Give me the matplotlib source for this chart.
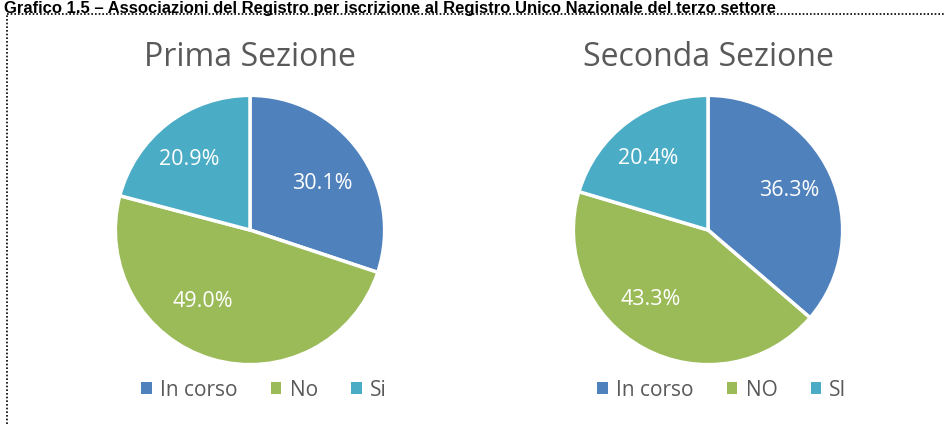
import matplotlib
matplotlib.use("Agg")
import numpy as np
import matplotlib.pyplot as plt

# Dati
titolo = "Grafico 1.5 – Associazioni del Registro per iscrizione al Registro Unico Nazionale del terzo settore"
sezioni = ["Prima Sezione", "Seconda Sezione"]
etichette_prima = ["In corso", "No", "Si"]
etichette_seconda = ["In corso", "NO", "SI"]
valori_prima = [30.1, 49.0, 20.9]
valori_seconda = [36.3, 43.3, 20.4]
colori = ["#4F81BD", "#9BBB59", "#4BACC6"]

plt.rcParams["font.family"] = ["Open Sans", "DejaVu Sans"]

fig = plt.figure(figsize=(9.45, 4.24), dpi=100)
W, H = 945, 424

# Titolo del grafico
fig.text(4 / W, 1 - 0.5 / H, titolo, fontsize=12, fontweight="bold",
         family="Liberation Sans", color="black", va="top", ha="left")

# Bordo tratteggiato
fig.add_artist(plt.Line2D([7 / W, 1], [1 - 13.5 / H, 1 - 13.5 / H], transform=fig.transFigure,
                          color="black", lw=1.2, linestyle=(0, (1, 1.2))))
fig.add_artist(plt.Line2D([7 / W, 7 / W], [0, 1 - 13.5 / H], transform=fig.transFigure,
                          color="black", lw=1.2, linestyle=(0, (1, 1.2))))


def disegna_torta(cx, valori, etichette, nome, spost_ang, dist):
    r = 136
    cy = 230
    ax = fig.add_axes([(cx - r) / W, 1 - (cy + r) / H, 2 * r / W, 2 * r / H])
    wedges, testi, pct = ax.pie(valori, colors=colori, startangle=90, counterclock=False,
                                autopct="%.1f%%", pctdistance=0.7,
                                wedgeprops=dict(edgecolor="white", linewidth=2.5),
                                textprops=dict(color="white", fontsize=15.5))
    # posizione "best fit" delle etichette come in Excel
    for w, t, da, d in zip(wedges, pct, spost_ang, dist):
        a = np.deg2rad((w.theta1 + w.theta2) / 2 + da)
        t.set_position((d * np.cos(a), d * np.sin(a)))
    ax.set_aspect("equal")
    ax.set_xlim(-1.01, 1.01)
    ax.set_ylim(-1.01, 1.01)
    fig.text(cx / W, 1 - 58 / H, nome, fontsize=23, color="#595959", ha="center", va="center")
    leg = fig.legend(wedges, etichette, loc="center", bbox_to_anchor=((cx + 14) / W, 1 - 390 / H),
                     ncol=3, frameon=False, fontsize=15, handlelength=0.5, handleheight=0.5,
                     handletextpad=0.4, columnspacing=1.6, labelcolor="#595959")
    for h in leg.legend_handles:
        h.set_linewidth(0)


disegna_torta(250, valori_prima, etichette_prima, sezioni[0],
              [-3, -17, 3], [0.64, 0.64, 0.69])
disegna_torta(708, valori_seconda, etichette_seconda, sezioni[1],
              [1, -11, 3], [0.67, 0.67, 0.69])

fig.savefig("out.png", dpi=100)
